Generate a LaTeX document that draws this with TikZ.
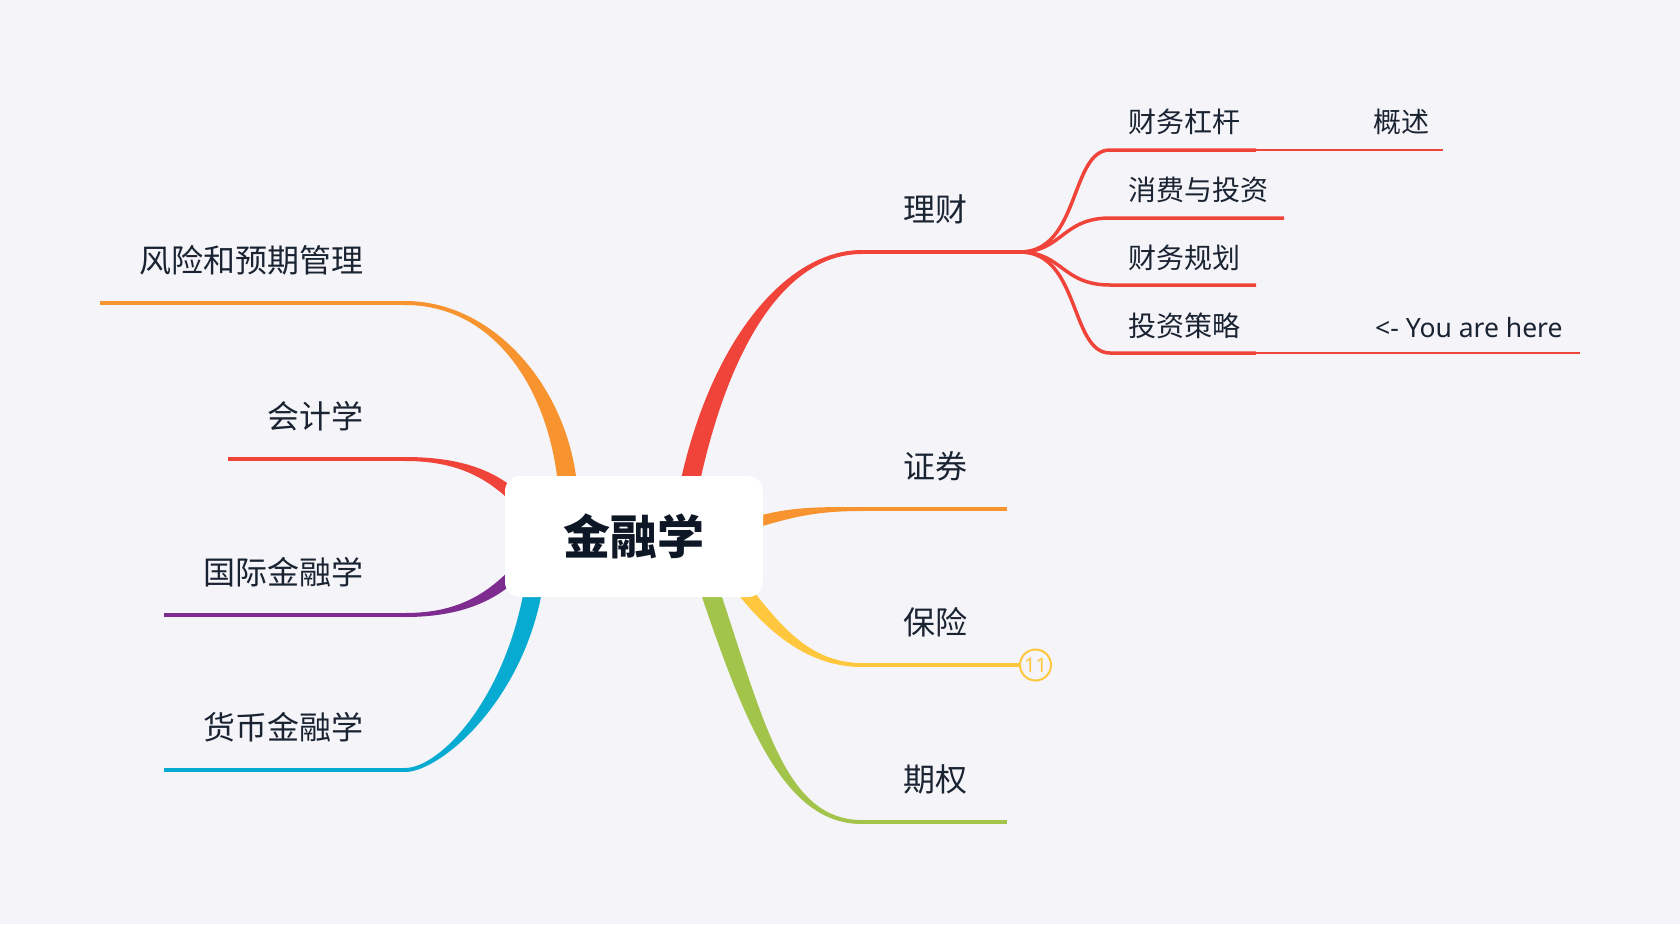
\documentclass[tikz,border=0pt]{standalone}
\usepackage{fontspec}
\setmainfont{Noto Sans CJK SC}
\newfontfamily\latinf{Noto Sans}
\usetikzlibrary{calc}
\definecolor{bgc}{HTML}{F5F5F9}
\definecolor{txt}{HTML}{1A2332}
\definecolor{rootTxt}{HTML}{0E1726}
\definecolor{cRed}{HTML}{F0443A}
\definecolor{cOrange}{HTML}{F7942F}
\definecolor{cYellow}{HTML}{FFC73E}
\definecolor{cGreen}{HTML}{A3C44A}
\definecolor{cPurple}{HTML}{7E2C90}
\definecolor{cCyan}{HTML}{07AAD0}

% tapered branch: #1 start, #2 control 1, #3 control 2, #4 end, #5 start half-width, #6 end half-width, #7 colour
\newcommand\taperbranch[7]{%
 \fill[#7] ($#1!#5!90:#2$) .. controls ($#2!#5!-90:#1$) and ($#3!#6!90:#4$) .. ($#4!#6!-90:#3$)
   -- ($#4!#6!90:#3$) .. controls ($#3!#6!-90:#4$) and ($#2!#5!90:#1$) .. ($#1!#5!-90:#2$) -- cycle;}

\tikzset{
 lbl/.style={inner sep=0pt, text=txt, font=\fontsize{32}{38}\selectfont},
 sublbl/.style={inner sep=0pt, text=txt, font=\fontsize{28}{34}\selectfont},
 mainline/.style={line width=4pt},
 subline/.style={line width=3.5pt, draw=cRed},
 thinline/.style={line width=2pt, draw=cRed},
 rootbox/.style={fill=white, rounded corners=15pt, minimum width=258pt, minimum height=121pt,
   inner sep=0pt, text=rootTxt, font=\bfseries\fontsize{47}{50}\selectfont},
}

\begin{document}
\begin{tikzpicture}[x=1pt,y=-1pt]
\fill[bgc] (0,0) rectangle (1680,924);
\useasboundingbox (0,0) rectangle (1680,924);

% ---------- coordinates ----------
\coordinate (licai-s) at (688,492);
\coordinate (licai-e) at (862,252);
\coordinate (licai-x) at (1020,252);
\coordinate (zq-s) at (750,524);
\coordinate (zq-e) at (862,509);
\coordinate (zq-x) at (1007,509);
\coordinate (bx-s) at (742,588);
\coordinate (bx-e) at (862,665);
\coordinate (qq-s) at (708,585);
\coordinate (qq-e) at (862,822);
\coordinate (qq-x) at (1007,822);
\coordinate (fx-s) at (568,490);
\coordinate (fx-e) at (405,303);
\coordinate (fx-x) at (100,303);
\coordinate (kj-s) at (518,500);
\coordinate (kj-e) at (405,459);
\coordinate (kj-x) at (228,459);
\coordinate (gj-s) at (518,570);
\coordinate (gj-e) at (405,615);
\coordinate (gj-x) at (164,615);
\coordinate (hb-s) at (534,585);
\coordinate (hb-e) at (405,770);
\coordinate (hb-x) at (164,770);
\coordinate (s1-s) at (1110,150);
\coordinate (s1-e) at (1256,150);
\coordinate (s1-t) at (1443,150);
\coordinate (s2-s) at (1110,218);
\coordinate (s2-e) at (1284,218);
\coordinate (s3-s) at (1110,285);
\coordinate (s3-e) at (1256,285);
\coordinate (s4-s) at (1110,353);
\coordinate (s4-e) at (1256,353);
\coordinate (s4-t) at (1580,353);

% ---------- main branches ----------
\taperbranch{(licai-s)}{(718,345)}{(785,252)}{(licai-e)}{9.5pt}{2pt}{cRed}
\draw[mainline,cRed] (licai-e) -- (licai-x);

\taperbranch{(zq-s)}{(790,512)}{(815,509)}{(zq-e)}{5.5pt}{2pt}{cOrange}
\draw[mainline,cOrange] (zq-e) -- (zq-x);

\taperbranch{(bx-s)}{(775,630)}{(810,665)}{(bx-e)}{7pt}{2pt}{cYellow}

\taperbranch{(qq-s)}{(755,725)}{(785,822)}{(qq-e)}{9.5pt}{2pt}{cGreen}
\draw[mainline,cGreen] (qq-e) -- (qq-x);

\taperbranch{(fx-s)}{(560,390)}{(495,303)}{(fx-e)}{9.5pt}{2pt}{cOrange}
\draw[mainline,cOrange] (fx-e) -- (fx-x);

\taperbranch{(kj-s)}{(490,472)}{(455,459)}{(kj-e)}{6pt}{2pt}{cRed}
\draw[mainline,cRed] (kj-e) -- (kj-x);

\taperbranch{(gj-s)}{(490,600)}{(455,615)}{(gj-e)}{6pt}{2pt}{cPurple}
\draw[mainline,cPurple] (gj-e) -- (gj-x);

\taperbranch{(hb-s)}{(515,700)}{(440,770)}{(hb-e)}{9pt}{2pt}{cCyan}
\draw[mainline,cCyan] (hb-e) -- (hb-x);

% ---------- sub branches of 理财 ----------
\draw[subline] (licai-x) .. controls (1080,252) and (1070,150) .. (s1-s) -- (s1-e);
\draw[thinline] (s1-e) -- (s1-t);
\draw[subline] (licai-x) .. controls (1062,252) and (1062,218) .. (s2-s) -- (s2-e);
\draw[subline] (licai-x) .. controls (1062,252) and (1062,285) .. (s3-s) -- (s3-e);
\draw[subline] (licai-x) .. controls (1080,252) and (1070,353) .. (s4-s) -- (s4-e);
\draw[thinline] (s4-e) -- (s4-t);

% ---------- badge ----------
\node[circle, draw=cYellow, line width=2pt, minimum size=31pt, inner sep=0pt, text=cYellow,
  font=\latinf\fontsize{20}{20}\selectfont] (badge) at (1035.5,665) {11};
\draw[mainline,cYellow] (bx-e) -- (badge.west);

% ---------- root ----------
\node[rootbox] (root) at (634,536.5) {金融学};

% ---------- labels ----------
\node[lbl, anchor=west] (licai) at (903,209) {理财};
\node[lbl, anchor=west] (zhengquan) at (903,466) {证券};
\node[lbl, anchor=west] (baoxian) at (903,622) {保险};
\node[lbl, anchor=west] (qiquan) at (903,779) {期权};
\node[lbl, anchor=east] (fengxian) at (364,260) {风险和预期管理};
\node[lbl, anchor=east] (kuaiji) at (364,416) {会计学};
\node[lbl, anchor=east] (guoji) at (364,572) {国际金融学};
\node[lbl, anchor=east] (huobi) at (364,727) {货币金融学};

\node[sublbl, anchor=west] (s1) at (1128,122) {财务杠杆};
\node[sublbl, anchor=west] (s2) at (1128,190) {消费与投资};
\node[sublbl, anchor=west] (s3) at (1128,258) {财务规划};
\node[sublbl, anchor=west] (s4) at (1128,326) {投资策略};
\node[sublbl, anchor=west] (gaishu) at (1373,122) {概述};
\node[inner sep=0pt, text=txt, font=\latinf\fontsize{26.5}{30}\selectfont, anchor=west] (here) at (1375,328) {<- You are here};
\end{tikzpicture}
\end{document}
